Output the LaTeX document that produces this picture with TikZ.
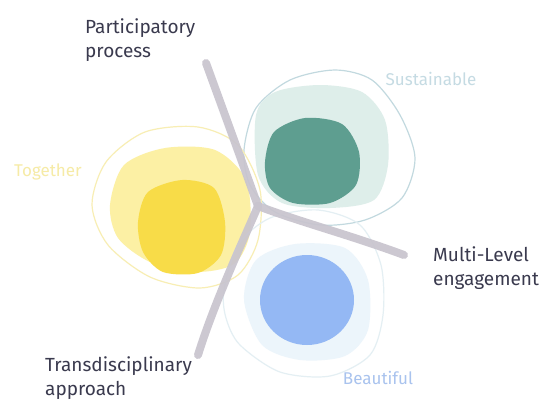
\documentclass[tikz,border=0pt]{standalone}
\usepackage{fontspec}
\setmainfont{Fira Sans}
\definecolor{txt}{HTML}{3A3A4E}
\definecolor{armc}{HTML}{C8C4CE}
\definecolor{tealD}{HTML}{5E9E90}
\definecolor{tealL}{HTML}{DEEEEA}
\definecolor{tealO}{HTML}{C2D9DF}
\definecolor{yelD}{HTML}{F8DC48}
\definecolor{yelL}{HTML}{FCF0A4}
\definecolor{yelO}{HTML}{F8EEB4}
\definecolor{bluD}{HTML}{94B8F4}
\definecolor{bluL}{HTML}{ECF5FB}
\definecolor{bluO}{HTML}{E4EFF3}
\definecolor{labS}{HTML}{C5DBE3}
\definecolor{labT}{HTML}{F6EBA6}
\definecolor{labB}{HTML}{A9C3EE}
\tikzset{
  lab/.style={font=\fontsize{19}{24}\selectfont, text=txt, align=left, inner sep=0pt},
  soft/.style={font=\fontsize{17}{20}\selectfont, inner sep=0pt},
  arm/.style={draw=armc, line width=8pt, line cap=round, line join=round, opacity=0.92},
  blobout/.style={line width=1.2pt},
}
\begin{document}
\begin{tikzpicture}[x=1pt,y=-1pt]
\useasboundingbox[fill=white] (0,0) rectangle (543,405);
% Sustainable (teal)
\draw[tealO,blobout] plot[smooth cycle] coordinates {(244,150) (256,108) (290,80) (335,70) (372,80) (400,115) (415,158) (402,198) (365,220) (320,225) (275,212) (250,185)};
\fill[tealL] plot[smooth cycle] coordinates {(256,115) (275,92) (320,85) (362,92) (385,120) (388,165) (374,200) (330,208) (282,203) (258,175)};
\fill[tealD] plot[smooth cycle] coordinates {(265,162) (274,132) (305,118) (342,124) (359,152) (356,185) (330,203) (293,203) (270,188)};
% Together (yellow)
\draw[yelO,blobout] plot[smooth cycle] coordinates {(92,205) (106,162) (145,132) (198,127) (238,145) (260,190) (258,240) (238,275) (200,288) (150,277) (108,245)};
\fill[yelL] plot[smooth cycle] coordinates {(110,205) (124,165) (165,148) (215,150) (246,180) (250,232) (234,264) (195,272) (150,262) (118,238)};
\fill[yelD] plot[smooth cycle] coordinates {(138,222) (148,192) (182,180) (214,188) (225,222) (221,255) (198,273) (163,272) (143,252)};
% Beautiful (blue)
\draw[bluO,blobout] plot[smooth cycle] coordinates {(224,290) (238,245) (270,218) (318,210) (360,225) (381,265) (383,315) (370,355) (330,376) (280,372) (240,345) (226,318)};
\fill[bluL] plot[smooth cycle] coordinates {(244,300) (256,260) (295,244) (345,248) (368,280) (368,330) (345,356) (300,360) (262,345)};
\fill[bluD] (307,300) ellipse [x radius=47, y radius=45];
% arms
\coordinate (J) at (258,206);
\coordinate (P) at (206,63);
\coordinate (M) at (404,255);
\coordinate (T) at (198,355);
\draw[arm] (P) .. controls (225,115) and (245,170) .. (J);
\draw[arm] (J) .. controls (300,222) and (350,235) .. (M);
\draw[arm] (J) .. controls (248,230) and (215,300) .. (T);
% labels
\node[lab, anchor=west] (lp) at (85,40) {Participatory\\process};
\node[lab, anchor=west] (lm) at (433,268) {Multi-Level\\engagement};
\node[lab, anchor=west] (lt) at (45,378) {Transdisciplinary\\approach};
\node[soft, text=labS] (ls) at (431,79) {Sustainable};
\node[soft, text=labT] (lg) at (48,172) {Together};
\node[soft, text=labB] (lb) at (378,378) {Beautiful};
\end{tikzpicture}
\end{document}
